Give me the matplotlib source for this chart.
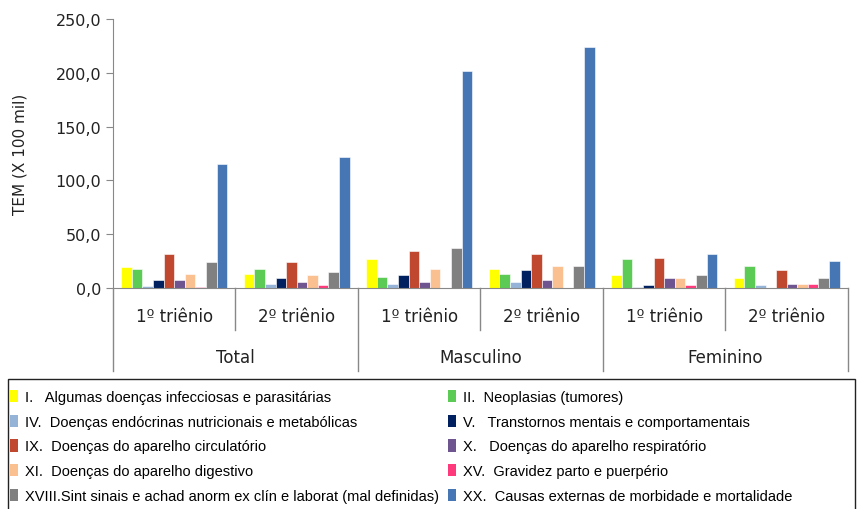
import matplotlib
matplotlib.use("Agg")
import matplotlib.pyplot as plt
import numpy as np
from matplotlib.patches import Patch, Rectangle
from matplotlib.ticker import FuncFormatter
from matplotlib import font_manager

periods = ["1º triênio", "2º triênio", "1º triênio", "2º triênio", "1º triênio", "2º triênio"]
sexes = ["Total", "Masculino", "Feminino"]

chapters = [
    "I.   Algumas doenças infecciosas e parasitárias",
    "II.  Neoplasias (tumores)",
    "IV.  Doenças endócrinas nutricionais e metabólicas",
    "V.   Transtornos mentais e comportamentais",
    "IX.  Doenças do aparelho circulatório",
    "X.   Doenças do aparelho respiratório",
    "XI.  Doenças do aparelho digestivo",
    "XV.  Gravidez parto e puerpério",
    "XVIII.Sint sinais e achad anorm ex clín e laborat (mal definidas)",
    "XX.  Causas externas de morbidade e mortalidade",
]
colors = ["#FFFF00", "#5BCB55", "#95B3D7", "#002060", "#C0482F",
          "#6F5590", "#FAC090", "#FF3A7C", "#808080", "#4676B4"]

# one list per chapter, values for the six period groups
cap_i = [19.2, 13.3, 26.6, 17.9, 11.8, 9.0]
cap_ii = [17.6, 17.6, 10.5, 13.3, 26.6, 20.7]
cap_iv = [2.0, 4.0, 4.0, 5.9, 0.5, 2.5]
cap_v = [7.1, 9.0, 11.8, 16.4, 2.5, 0.3]
cap_ix = [31.3, 23.8, 34.0, 31.3, 28.2, 16.4]
cap_x = [7.0, 5.9, 5.9, 7.4, 9.0, 4.0]
cap_xi = [13.3, 11.8, 17.9, 20.7, 9.0, 4.0]
cap_xv = [0.6, 3.0, 0.2, 0.2, 2.5, 4.0]
cap_xviii = [23.8, 14.6, 37.1, 20.7, 11.8, 9.0]
cap_xx = [115.4, 121.3, 201.5, 223.8, 31.3, 25.1]
series = [cap_i, cap_ii, cap_iv, cap_v, cap_ix, cap_x, cap_xi, cap_xv, cap_xviii, cap_xx]

installed = {f.name for f in font_manager.fontManager.ttflist}
narrow = "Liberation Sans Narrow" if "Liberation Sans Narrow" in installed else "Liberation Sans"
plt.rcParams["font.family"] = ["DejaVu Sans"]

fig = plt.figure(figsize=(8.65, 5.10), dpi=100)
ax = fig.add_axes([0.1306, 0.4333, 0.8497, 0.5275])

x = np.arange(len(periods))
width = 0.0864
for k, (vals, col) in enumerate(zip(series, colors)):
    ax.bar(x + (k - 4.5) * width, vals, width, color=col,
           edgecolor="white", linewidth=0.4, label=chapters[k])

ax.set_xlim(-0.5, len(periods) - 0.5)
ax.set_ylim(0, 250)
ax.set_yticks(np.arange(0, 251, 50))
ax.yaxis.set_major_formatter(FuncFormatter(lambda v, p: f"{v:.1f}".replace(".", ",")))
ax.tick_params(axis="y", labelsize=11.5, direction="out", length=5, color="#888888",
               labelcolor="#222222")
ax.set_ylabel("TEM (X 100 mil)", fontsize=11, labelpad=20, color="#222222")
ax.set_xticks([])
for side in ("top", "right"):
    ax.spines[side].set_visible(False)
for side in ("left", "bottom"):
    ax.spines[side].set_color("#888888")

# two-level category axis below the plot
trans = ax.get_xaxis_transform()
for i, lab in enumerate(periods):
    ax.text(i, -0.105, lab, transform=trans, ha="center", va="center",
            fontsize=12, color="#222222")
for j, lab in enumerate(sexes):
    ax.text(2 * j + 0.5, -0.255, lab, transform=trans, ha="center", va="center",
            fontsize=12, color="#222222")
for b in np.arange(-0.5, len(periods), 1.0):
    outer = int(round(b + 0.5)) % 2 == 0
    ax.plot([b, b], [0, -0.31 if outer else -0.155], transform=trans,
            color="#888888", lw=1.0, clip_on=False)

# legend box runs past the bottom edge of the figure
fig.patches.append(Rectangle((8 / 865, -0.05), 847 / 865, 0.05 + 130 / 510,
                             transform=fig.transFigure, fill=False,
                             edgecolor="#222222", linewidth=1.0))

# legend in rows: I, II / IV, V / ...
handles = [Patch(facecolor=c, edgecolor="none") for c in colors]
order = [0, 2, 4, 6, 8, 1, 3, 5, 7, 9]
leg = fig.legend([handles[i] for i in order], [chapters[i] for i in order],
                 ncol=2, loc="upper left", bbox_to_anchor=(0.012, 0.234),
                 frameon=False, prop={"family": narrow, "size": 10.5},
                 handlelength=0.55, handleheight=0.9, handletextpad=0.45,
                 labelspacing=0.74, borderaxespad=0.0, borderpad=0.0,
                 columnspacing=0.63)

fig.savefig("out.png", dpi=100)
